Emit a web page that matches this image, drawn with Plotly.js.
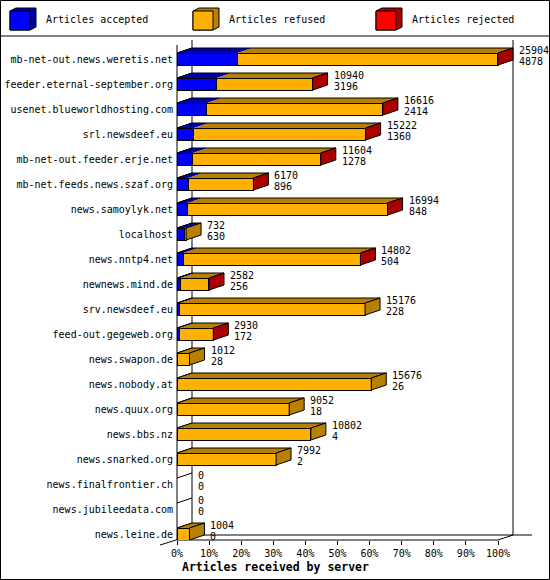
<!DOCTYPE html>
<html>
<head>
<meta charset="utf-8">
<script src="https://cdn.plot.ly/plotly-3.0.1.min.js"></script>
<style>
  html, body { margin: 0; padding: 0; background: #fff; }
  #chart { width: 550px; height: 580px; }
</style>
</head>
<body>
<div id="chart"></div>
<script>
// servers, top to bottom
var servers = [
  'mb-net-out.news.weretis.net', 'feeder.eternal-september.org', 'usenet.blueworldhosting.com',
  'srl.newsdeef.eu', 'mb-net-out.feeder.erje.net', 'mb-net.feeds.news.szaf.org',
  'news.samoylyk.net', 'localhost', 'news.nntp4.net', 'newnews.mind.de',
  'srv.newsdeef.eu', 'feed-out.gegeweb.org', 'news.swapon.de', 'news.nobody.at',
  'news.quux.org', 'news.bbs.nz', 'news.snarked.org', 'news.finalfrontier.ch',
  'news.jubileedata.com', 'news.leine.de'
];
var received = [25904, 10940, 16616, 15222, 11604, 6170, 16994, 732, 14802, 2582,
                15176, 2930, 1012, 15676, 9052, 10802, 7992, 0, 0, 1004];
var accepted = [4878, 3196, 2414, 1360, 1278, 896, 848, 630, 504, 256,
                228, 172, 28, 26, 18, 4, 2, 0, 0, 0];
// rejected only shows up as the red end face, so these are rough guesses
var rejected = [52, 38, 26, 20, 16, 12, 22, 0, 14, 9,
                0, 7, 0, 0, 0, 0, 0, 0, 0, 0];
var seriesNames = ['Articles accepted', 'Articles refused', 'Articles rejected'];
var tickPercents = [0, 10, 20, 30, 40, 50, 60, 70, 80, 90, 100];

var faceColors = ['#0000FF', '#FFB000', '#FF0000'];
var topColors = ['#0000AA', '#B88000', '#AA0000'];
var FONT = 'DejaVu Sans Mono';

// geometry of the page (pixels)
var L = 177, T = 40, PW = 369, PH = 500;
var PX = 3.21;              // pixels per percent
var ROW = 25;               // pixels per server row
var DX = 15 / PX, DY = 5 / ROW, HALF = 0.24;

function px2x(p) { return (p - L) / PW; }
function py2y(p) { return (T + PH - p) / PH; }

var maxRecv = Math.max.apply(null, received);
function pct(v) { return v / maxRecv * 100; }

var refused = received.map(function(r, i) { return r - accepted[i] - rejected[i]; });
var series = [accepted, refused, rejected];
var rows = servers.map(function(s, i) { return i; });

var traces = series.map(function(vals, k) {
  return {
    type: 'bar',
    orientation: 'h',
    name: seriesNames[k],
    y: rows,
    x: vals.map(function(v) { return v > 0 ? pct(v) : null; }),
    width: 2 * HALF,
    marker: {color: faceColors[k], line: {color: '#000', width: 1}},
    hoverinfo: 'skip'
  };
});

var shapes = [];
var annotations = [];

function pline(x0, y0, x1, y1) {
  shapes.push({type: 'line', xref: 'paper', yref: 'paper',
    x0: px2x(x0), y0: py2y(y0), x1: px2x(x1), y1: py2y(y1),
    line: {color: '#000', width: 1}, layer: 'below'});
}

// the 3d frame
pline(192, 40, 192, 535);
pline(513, 40, 513, 535);
pline(192, 535, 532, 535);
pline(177, 45, 177, 540);
pline(177, 540, 498, 540);
pline(498, 540, 513, 535);
pline(160, 545, 192, 535);

rows.forEach(function(i) {
  // depth line of each row on the left wall
  shapes.push({type: 'line', xref: 'x', yref: 'y', x0: 0, y0: i - HALF, x1: DX, y1: i - HALF - DY,
    line: {color: '#000', width: 1}, layer: 'below'});

  var tot = pct(received[i]);
  var x0 = 0, last = -1;
  series.forEach(function(vals, k) {
    if (vals[i] <= 0) return;
    var x1 = x0 + pct(vals[i]);
    shapes.push({type: 'path', xref: 'x', yref: 'y',
      path: 'M' + x0 + ',' + (i - HALF) + ' L' + (x0 + DX) + ',' + (i - HALF - DY) +
            ' L' + (x1 + DX) + ',' + (i - HALF - DY) + ' L' + x1 + ',' + (i - HALF) + ' Z',
      fillcolor: topColors[k], line: {width: 0}});
    x0 = x1;
    last = k;
  });
  if (last >= 0) {
    // outline of top face
    shapes.push({type: 'path', xref: 'x', yref: 'y',
      path: 'M0,' + (i - HALF) + ' L' + DX + ',' + (i - HALF - DY) +
            ' L' + (tot + DX) + ',' + (i - HALF - DY) + ' L' + tot + ',' + (i - HALF),
      line: {color: '#000', width: 1}});
    // end face
    shapes.push({type: 'path', xref: 'x', yref: 'y',
      path: 'M' + tot + ',' + (i - HALF) + ' L' + (tot + DX) + ',' + (i - HALF - DY) +
            ' L' + (tot + DX) + ',' + (i + HALF - DY) + ' L' + tot + ',' + (i + HALF) + ' Z',
      fillcolor: topColors[last], line: {color: '#000', width: 1}});
  }

  var tx = tot + DX + 4 / PX;
  annotations.push({x: tx, y: i - 8.5 / ROW, xref: 'x', yref: 'y', text: String(received[i]),
    xanchor: 'left', yanchor: 'middle', showarrow: false, font: {family: FONT, size: 10, color: '#000'}});
  annotations.push({x: tx, y: i + 2 / ROW, xref: 'x', yref: 'y', text: String(accepted[i]),
    xanchor: 'left', yanchor: 'middle', showarrow: false, font: {family: FONT, size: 10, color: '#000'}});
});

// legend with little cubes
var legendX = [10, 193, 376];
seriesNames.forEach(function(name, k) {
  var x = legendX[k];
  function P(a, b) { return px2x(a) + ',' + py2y(b); }
  shapes.push({type: 'path', xref: 'paper', yref: 'paper',
    path: 'M' + P(x, 11) + ' L' + P(x + 6, 8) + ' L' + P(x + 26, 8) + ' L' + P(x + 26, 27) +
          ' L' + P(x + 20, 30) + ' L' + P(x, 30) + ' Z',
    fillcolor: topColors[k], line: {color: '#000', width: 1}});
  shapes.push({type: 'rect', xref: 'paper', yref: 'paper',
    x0: px2x(x), y0: py2y(11), x1: px2x(x + 20), y1: py2y(30),
    fillcolor: faceColors[k], line: {color: '#000', width: 1}});
  annotations.push({xref: 'paper', yref: 'paper', x: px2x(x + 34), y: py2y(20), text: name,
    xanchor: 'left', yanchor: 'middle', showarrow: false, font: {family: FONT, size: 10, color: '#000'}});
});

// separator under the legend and outer border
pline(0, 36, 550, 36);
shapes.push({type: 'rect', xref: 'paper', yref: 'paper',
  x0: px2x(0.5), y0: py2y(0.5), x1: px2x(549.5), y1: py2y(579.5),
  line: {color: '#000', width: 1}, layer: 'below'});

annotations.push({xref: 'paper', yref: 'paper', x: px2x(180), y: py2y(567),
  text: '<b>Articles received by server</b>', xanchor: 'left', yanchor: 'middle', showarrow: false,
  font: {family: FONT, size: 11.5, color: '#000'}});

var layout = {
  width: 550,
  height: 580,
  margin: {l: L, t: T, r: 550 - L - PW, b: 580 - T - PH, pad: 0},
  paper_bgcolor: '#fff',
  plot_bgcolor: 'rgba(0,0,0,0)',
  barmode: 'stack',
  bargap: 0,
  showlegend: false,
  font: {family: FONT, size: 10, color: '#000'},
  xaxis: {
    range: [0, PW / PX],
    showgrid: false, zeroline: false, showline: false,
    tickvals: tickPercents,
    ticktext: tickPercents.map(function(p) { return p + '%'; }),
    ticks: 'outside', ticklen: 4, tickcolor: '#000', tickwidth: 1,
    tickfont: {family: FONT, size: 10, color: '#000'},
    fixedrange: true, automargin: false
  },
  yaxis: {
    range: [(PH - 19) / ROW, -19 / ROW],
    showgrid: false, zeroline: false, showline: false,
    tickvals: rows,
    ticktext: servers,
    ticks: '',
    ticklabelstandoff: 3,
    tickfont: {family: FONT, size: 10, color: '#000'},
    fixedrange: true, automargin: false
  },
  shapes: shapes,
  annotations: annotations
};

Plotly.newPlot('chart', traces, layout, {displayModeBar: false, staticPlot: true});
</script>
</body>
</html>
